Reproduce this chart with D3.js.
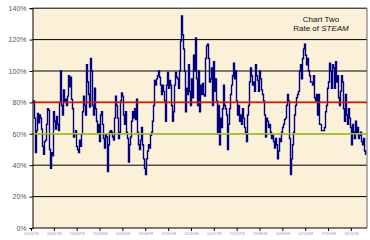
<!DOCTYPE html>
<html><head><meta charset="utf-8">
<script src="https://cdn.jsdelivr.net/npm/d3@7/dist/d3.min.js"></script>
<style>html,body{margin:0;padding:0;background:#fff;}svg{display:block;}</style>
</head><body>
<script>
// Rate of STEAM (%), one value per observation
const steamRate = [
 80,81,70,48,62,73,67,72,70,63,52,47,55,56,66,76,75,50,38,48,46,74,68,63,71,66,62,80,100,78,72,88,80,82,78,84,97,90,96,82,76,58,60,62,52,50,48,56,52,60,74,84,78,72,104,93,
 85,77,108,100,78,72,89,76,68,61,66,55,72,74,66,57,51,60,58,36,53,61,62,61,58,56,70,84,78,70,57,61,81,86,84,72,66,74,61,57,42,53,58,68,74,70,76,69,82,61,53,50,56,64,53,
 44,38,34,44,49,53,51,59,61,68,78,94,91,95,97,100,96,91,85,91,87,81,68,91,99,89,94,91,78,68,74,91,99,96,95,89,100,119,135,123,114,100,74,89,85,104,87,78,95,83,110,100,121,95,78,100,
 74,91,85,92,85,84,108,116,117,108,93,95,102,78,106,87,95,81,60,78,53,70,64,76,91,78,76,72,50,66,76,85,91,97,105,95,100,81,72,78,68,72,66,76,70,64,61,55,72,78,93,102,97,91,93,87,
 104,97,94,87,100,95,88,85,81,72,58,70,68,64,66,61,57,59,55,51,57,53,44,49,57,55,61,64,66,69,70,78,85,81,57,34,44,53,61,72,78,83,85,87,100,104,95,108,114,117,110,104,108,100,97,93,
 93,91,97,83,81,85,72,85,66,66,62,62,62,64,74,78,89,93,105,100,89,104,102,89,106,93,97,83,78,87,97,93,76,68,85,72,66,76,70,64,53,66,61,57,68,61,64,57,59,61,55,53,57,49,47
];
const yTicks = [0, 20, 40, 60, 80, 100, 120, 140];
const xTickLabels = ["01/01/98","24/01/98","16/02/98","11/03/98","03/04/98","26/04/98","19/05/98","11/06/98",
                     "04/07/98","27/07/98","19/08/98","11/09/98","04/10/98","27/10/98","19/11/98"];
const upperLimit = 80;
const lowerLimit = 60;
const titleLines = ["Chart Two", "Rate of "];

const W = 370, H = 240;
const L = 32.5, R = 367, T = 8.2, B = 228;

const svg = d3.select("body").append("svg").attr("width", W).attr("height", H);

const x = d3.scaleLinear().domain([0, steamRate.length - 1]).range([33, 366]);
const y = d3.scaleLinear().domain([0, 140]).range([B, T]);

svg.append("rect").attr("x", L).attr("y", T).attr("width", R - L).attr("height", B - T)
  .attr("fill", "#FBF0D8");

svg.append("g").selectAll("line").data(yTicks.filter(v => v > 0)).join("line")
  .attr("x1", L).attr("x2", R).attr("y1", d => y(d)).attr("y2", d => y(d))
  .attr("stroke", "#000").attr("stroke-width", 1);

svg.append("line").attr("x1", R).attr("x2", R).attr("y1", T).attr("y2", B)
  .attr("stroke", "#666").attr("stroke-width", 1);

const line = d3.line().curve(d3.curveStep).x((d, i) => x(i)).y(d => y(d));
svg.append("path").datum(steamRate).attr("d", line)
  .attr("fill", "none").attr("stroke", "#000080").attr("stroke-width", 1.4);

svg.append("line").attr("x1", L).attr("x2", R).attr("y1", y(upperLimit)).attr("y2", y(upperLimit))
  .attr("stroke", "#D21A0A").attr("stroke-width", 1.6);
svg.append("line").attr("x1", L).attr("x2", R).attr("y1", y(lowerLimit)).attr("y2", y(lowerLimit))
  .attr("stroke", "#A6CC1E").attr("stroke-width", 1.6);

const yAxis = d3.axisLeft(y).tickValues(yTicks).tickSize(3).tickFormat(d => d + "%");
const gy = svg.append("g").attr("transform", `translate(${L},0)`).call(yAxis);
gy.select(".domain").attr("stroke", "#000");
gy.selectAll(".tick line").attr("stroke", "#000");
gy.selectAll("text").attr("font-family", "Liberation Sans, Arial, sans-serif")
  .attr("font-size", 7).attr("fill", "#555").attr("x", -6);

const tickIdx = xTickLabels.map((d, i) => -2 + i * 22.85);
const xAxis = d3.axisBottom(x).tickValues(tickIdx).tickSize(3)
  .tickFormat((d, i) => xTickLabels[i]);
const gx = svg.append("g").attr("transform", `translate(0,${B})`).call(xAxis);
gx.select(".domain").attr("stroke", "#000").attr("d", `M${L},0H${R}`);
gx.selectAll(".tick line").attr("stroke", "#000");
gx.selectAll("text").attr("font-family", "Liberation Sans, Arial, sans-serif")
  .attr("font-size", 3.8).attr("fill", "#999").attr("y", 4);

svg.append("text").attr("x", 321).attr("y", 21.5).attr("text-anchor", "middle")
  .attr("font-family", "Liberation Sans, Arial, sans-serif").attr("font-size", 8).attr("fill", "#111")
  .text(titleLines[0]);
const t2 = svg.append("text").attr("x", 321).attr("y", 31).attr("text-anchor", "middle")
  .attr("font-family", "Liberation Sans, Arial, sans-serif").attr("font-size", 8).attr("fill", "#111");
t2.append("tspan").text(titleLines[1]);
t2.append("tspan").attr("font-style", "italic").text("STEAM");
</script>
</body></html>
